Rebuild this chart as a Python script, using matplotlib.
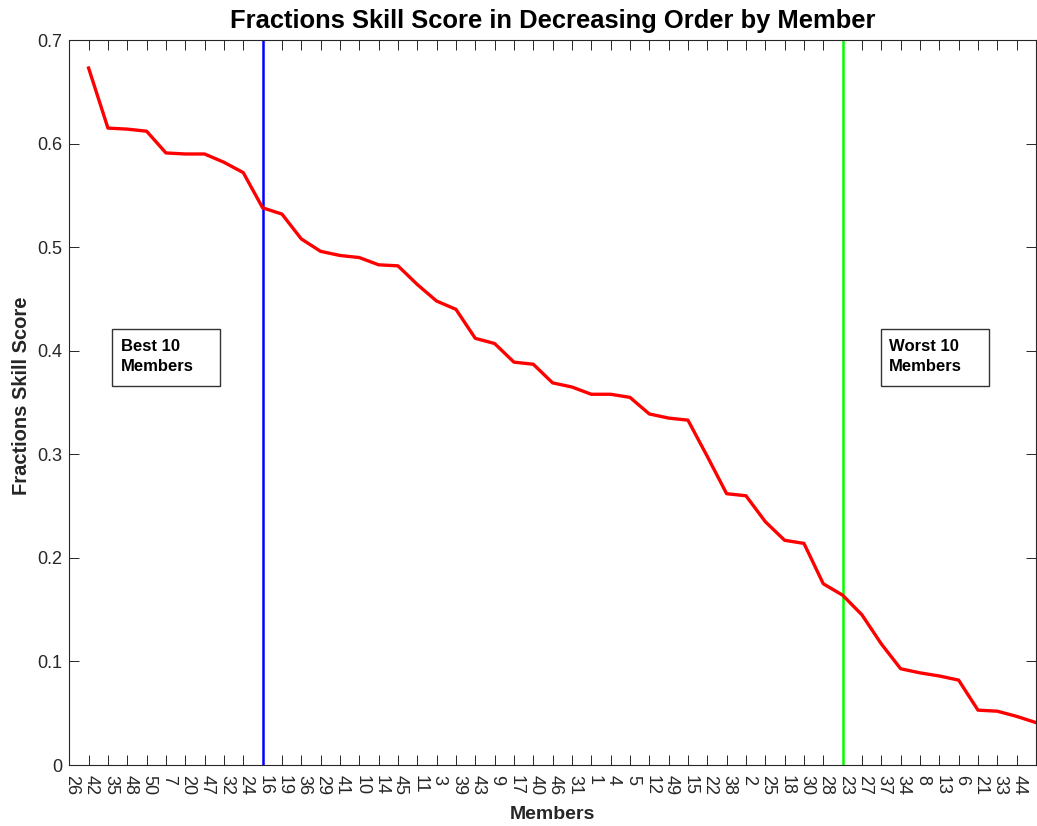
import matplotlib
matplotlib.use("Agg")
import matplotlib.pyplot as plt
from matplotlib.patches import Rectangle
from matplotlib.transforms import ScaledTranslation

members = [26, 42, 35, 48, 50, 7, 20, 47, 32, 24, 16, 19, 36, 29, 41, 10, 14, 45, 11, 3,
           39, 43, 9, 17, 40, 46, 31, 1, 4, 5, 12, 49, 15, 22, 38, 2, 25, 18, 30, 28,
           23, 27, 37, 34, 8, 13, 6, 21, 33, 44]
fss = [0.673, 0.615, 0.614, 0.612, 0.591, 0.590, 0.590, 0.582, 0.572, 0.538,
       0.532, 0.508, 0.496, 0.492, 0.490, 0.483, 0.482, 0.464, 0.448, 0.440,
       0.412, 0.407, 0.389, 0.387, 0.369, 0.365, 0.358, 0.358, 0.355, 0.339,
       0.335, 0.333, 0.298, 0.262, 0.260, 0.235, 0.217, 0.214, 0.175, 0.164,
       0.145, 0.117, 0.093, 0.089, 0.086, 0.082, 0.053, 0.052, 0.047, 0.041]
rank = list(range(1, len(members) + 1))
best_cut = 10
worst_cut = 40
yticks = [0, 0.1, 0.2, 0.3, 0.4, 0.5, 0.6, 0.7]
ytick_labels = ["0", "0.1", "0.2", "0.3", "0.4", "0.5", "0.6", "0.7"]

plt.rcParams['font.family'] = ['Liberation Sans', 'DejaVu Sans']
dark = '#262626'

fig = plt.figure(figsize=(10.37, 8.26), dpi=100)
ax = fig.add_axes([0.0668, 0.0738, 0.9322, 0.8777])

ax.plot(rank, fss, color='#FF0000', linewidth=2.4, zorder=3)
ax.axvline(best_cut, color='#0000FF', linewidth=1.8, zorder=2)
ax.axvline(worst_cut, color='#00FF00', linewidth=1.8, zorder=2)

ax.set_xlim(0, 50)
ax.set_ylim(0, 0.7)
ax.set_xticks(rank)
ax.set_xticklabels([str(m) for m in members], rotation=270, ha='right', va='top')
ax.set_yticks(yticks)
ax.set_yticklabels(ytick_labels)

ax.tick_params(axis='both', direction='in', length=7, width=0.7, colors=dark,
               labelsize=13, top=True, right=True)
ax.tick_params(axis='x', pad=7)
ax.tick_params(axis='y', pad=5)
offset = ScaledTranslation(-6 / 72, 0, fig.dpi_scale_trans)
for lab in ax.get_xticklabels():
    lab.set_transform(lab.get_transform() + offset)

for sp in ax.spines.values():
    sp.set_color(dark)
    sp.set_linewidth(0.8)

ax.set_title('Fractions Skill Score in Decreasing Order by Member',
             fontsize=18.4, fontweight='bold', color='black', pad=9)
ax.set_xlabel('Members', fontsize=14, fontweight='bold', color=dark)
ax.set_ylabel('Fractions Skill Score', fontsize=14.5, fontweight='bold', color=dark)
ax.xaxis.set_label_coords(0.5, -0.056)
ax.yaxis.set_label_coords(-0.040, 0.51)

# annotation boxes
for (x0, x1), tx, label in [((0.0445, 0.156), 0.0538, 'Best 10\nMembers'),
                            ((0.8397, 0.9517), 0.8483, 'Worst 10\nMembers')]:
    ax.add_patch(Rectangle((x0, 0.5230), x1 - x0, 0.6020 - 0.5230,
                           transform=ax.transAxes, facecolor='white',
                           edgecolor='#333333', linewidth=1.0, zorder=4))
    ax.text(tx, 0.588, label, transform=ax.transAxes, fontsize=12,
            fontweight='bold', va='top', ha='left', linespacing=1.45, zorder=5)

fig.savefig('out.png', dpi=100)
